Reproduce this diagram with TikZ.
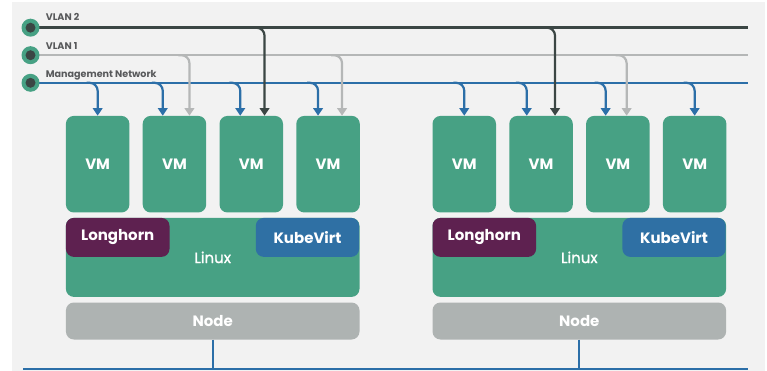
\documentclass[tikz,border=0pt]{standalone}
\usepackage{fontspec}
\setmainfont{Poppins}
\newfontfamily\pmed{Poppins}[FakeBold=1.2]
\usetikzlibrary{arrows.meta,calc}
\definecolor{bgc}{HTML}{F2F2F2}
\definecolor{vmg}{HTML}{47A184}
\definecolor{lhp}{HTML}{5E2150}
\definecolor{kvb}{HTML}{2F70A4}
\definecolor{ndg}{HTML}{AEB3B2}
\definecolor{dkl}{HTML}{3B4644}
\definecolor{gyl}{HTML}{B5B7B7}
\definecolor{bll}{HTML}{2C6FA8}
\definecolor{lbt}{HTML}{58595B}
\tikzset{
  box/.style={rounded corners=8pt, inner sep=0pt, text=white, anchor=north west},
  bfont/.style={font=\bfseries\fontsize{15}{17}\selectfont},
  vmbox/.style={box, bfont, fill=vmg, minimum width=63.5pt, minimum height=96.6pt},
  linuxbox/.style={box, fill=vmg, minimum width=293.6pt, minimum height=79pt, font=\pmed\fontsize{15}{17}\selectfont},
  lhbox/.style={box, bfont, fill=lhp, minimum width=103.6pt, minimum height=39pt},
  kvbox/.style={box, bfont, fill=kvb, minimum width=103.3pt, minimum height=39pt},
  nodebox/.style={box, bfont, fill=ndg, minimum width=293.6pt, minimum height=37pt},
  net/.style={line width=2.4pt},
  arr/.style={line width=2.2pt, rounded corners=8pt, -{Triangle[width=9.5pt,length=7.5pt]}},
  lbl/.style={anchor=base west, inner sep=0pt, text=lbt, font=\bfseries\fontsize{9.6}{11}\selectfont},
  dot/.style={circle, fill=vmg, minimum size=18pt, inner sep=0pt, path picture={\fill[dkl] (path picture bounding box.center) circle (5pt);}}
}
\begin{document}
\begin{tikzpicture}[x=1pt,y=-1pt]
\useasboundingbox (0,0) rectangle (767,371);
\fill[bgc] (12,2) rectangle (765,371);
% groups
\foreach \g/\ox in {L/0,R/366.6}{
  \foreach \i/\dx in {1/0,2/76.8,3/153.6,4/230.4}{
    \node[vmbox] (vm\g\i) at (65.7+\ox+\dx,115.7) {VM};
  }
  \node[linuxbox] (linux\g) at (65.7+\ox,217.7) {Linux};
  \node[lhbox] (lh\g) at (65.7+\ox,217.7) {Longhorn};
  \node[kvbox, anchor=north east] (kv\g) at (359.3+\ox,217.7) {KubeVirt};
  \node[nodebox] (node\g) at (65.7+\ox,302.3) {Node};
}
% bottom network
\coordinate (bl) at (23,369);
\coordinate (br) at (748,369);
\draw[bll, line width=2.4pt] (bl) -- (br);
\draw[bll, line width=2pt] (nodeL.south) -- (nodeL.south |- bl);
\draw[bll, line width=2pt] (nodeR.south) -- (nodeR.south |- bl);
% network lines
\coordinate (v2s) at (30.5,27.7);
\coordinate (v2e) at (748,27.7);
\coordinate (v1s) at (30.5,55.2);
\coordinate (v1e) at (748,55.2);
\coordinate (mgs) at (30.5,82.8);
\coordinate (mge) at (748,82.8);
\draw[net, dkl] (v2s) -- (v2e);
\draw[net, gyl] (v1s) -- (v1e);
\draw[net, bll] (mgs) -- (mge);
% arrows: management
\foreach \n/\d in {vmL1/0, vmL2/-11.7, vmL3/-11, vmL4/-10, vmR1/0, vmR2/-14.3, vmR3/-12.2, vmR4/0}{
  \draw[arr, bll] ([xshift=\d pt-11pt]\n.north |- mgs) -| ([xshift=\d pt]\n.north);
}
% arrows: VLAN 1
\foreach \n/\d in {vmL2/15, vmL4/14, vmR3/8.8}{
  \draw[arr, gyl] ([xshift=\d pt-11pt]\n.north |- v1s) -| ([xshift=\d pt]\n.north);
}
% arrows: VLAN 2
\foreach \n/\d in {vmL3/13.3, vmR2/14}{
  \draw[arr, dkl] ([xshift=\d pt-11pt]\n.north |- v2s) -| ([xshift=\d pt]\n.north);
}
% end dots
\node[dot] (d2) at (v2s) {};
\node[dot] (d1) at (v1s) {};
\node[dot] (d0) at (mgs) {};
\node[lbl] (t2) at (45.7,20.7) {VLAN 2};
\node[lbl] (t1) at (45.7,49.3) {VLAN 1};
\node[lbl] (t0) at (45.7,77.3) {Management Network};
\end{tikzpicture}
\end{document}
